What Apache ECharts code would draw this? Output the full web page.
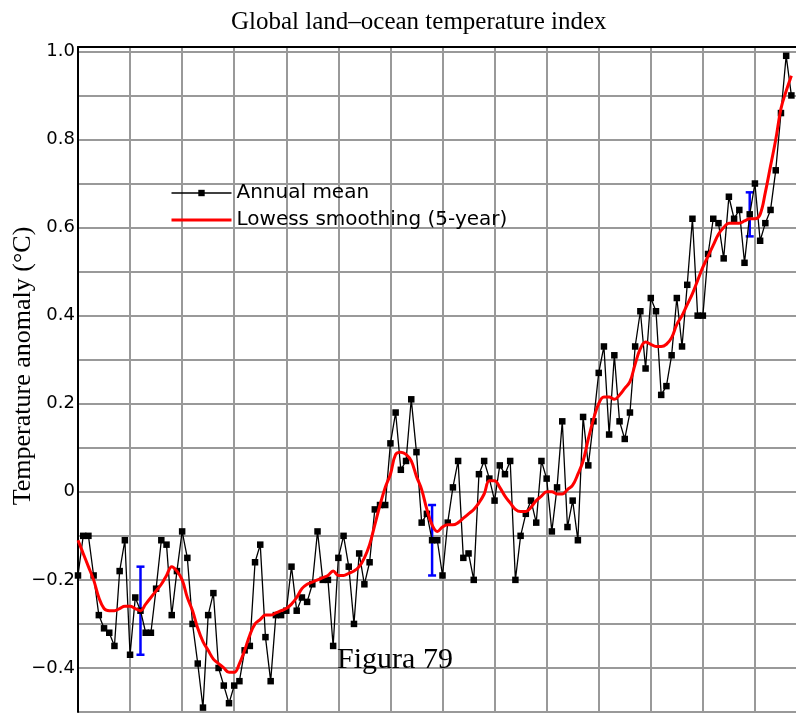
<!DOCTYPE html>
<html>
<head>
<meta charset="utf-8">
<title>Global land–ocean temperature index</title>
<script src="https://cdn.jsdelivr.net/npm/echarts@6/dist/echarts.min.js"></script>
<style>
  html, body { margin: 0; padding: 0; background: #fff; }
  #chart { width: 796px; height: 713px; }
</style>
</head>
<body>
<div id="chart"></div>
<script>
// 数据：年度平均值（1880–2017）
const firstYear = 1880
const annualMean = [
  -0.19, -0.10, -0.10, -0.19, -0.28, -0.31, -0.32, -0.35, -0.18, -0.11,
  -0.37, -0.24, -0.27, -0.32, -0.32, -0.22, -0.11, -0.12, -0.28, -0.18,
  -0.09, -0.15, -0.30, -0.39, -0.49, -0.28, -0.23, -0.40, -0.44, -0.48,
  -0.44, -0.43, -0.36, -0.35, -0.16, -0.12, -0.33, -0.43, -0.28, -0.28,
  -0.27, -0.17, -0.27, -0.24, -0.25, -0.21, -0.09, -0.20, -0.20, -0.35,
  -0.15, -0.10, -0.17, -0.30, -0.14, -0.21, -0.16, -0.04, -0.03, -0.03,
  0.11, 0.18, 0.05, 0.07, 0.21, 0.09, -0.07, -0.05, -0.11, -0.11,
  -0.19, -0.07, 0.01, 0.07, -0.15, -0.14, -0.20, 0.04, 0.07, 0.03,
  -0.02, 0.06, 0.04, 0.07, -0.20, -0.10, -0.05, -0.02, -0.07, 0.07,
  0.03, -0.09, 0.01, 0.16, -0.08, -0.02, -0.11, 0.17, 0.06, 0.16,
  0.27, 0.33, 0.13, 0.31, 0.16, 0.12, 0.18, 0.33, 0.41, 0.28,
  0.44, 0.41, 0.22, 0.24, 0.31, 0.44, 0.33, 0.47, 0.62, 0.40,
  0.40, 0.54, 0.62, 0.61, 0.53, 0.67, 0.62, 0.64, 0.52, 0.63,
  0.70, 0.57, 0.61, 0.64, 0.73, 0.86, 0.99, 0.90,
]
// 5 年 Lowess 平滑
const lowess = [
  -0.11, -0.14, -0.17, -0.20, -0.24, -0.265, -0.27, -0.27, -0.265, -0.26,
  -0.26, -0.265, -0.27, -0.255, -0.24, -0.225, -0.21, -0.19, -0.17, -0.18,
  -0.20, -0.24, -0.27, -0.31, -0.34, -0.36, -0.38, -0.39, -0.40, -0.41,
  -0.41, -0.39, -0.36, -0.325, -0.30, -0.29, -0.28, -0.28, -0.275, -0.27,
  -0.265, -0.255, -0.24, -0.22, -0.21, -0.205, -0.20, -0.195, -0.19, -0.18,
  -0.19, -0.19, -0.185, -0.18, -0.17, -0.15, -0.12, -0.075, -0.03, 0.01,
  0.04, 0.085, 0.09, 0.085, 0.07, 0.035, 0.005, -0.04, -0.075, -0.09,
  -0.08, -0.075, -0.075, -0.07, -0.06, -0.05, -0.04, -0.025, -0.005, 0.025,
  0.025, 0.01, -0.01, -0.025, -0.04, -0.045, -0.045, -0.035, -0.02, -0.01,
  0.0, 0.0, -0.005, -0.005, 0.005, 0.015, 0.04, 0.07, 0.12, 0.165,
  0.20, 0.215, 0.215, 0.21, 0.22, 0.235, 0.25, 0.29, 0.325, 0.34,
  0.335, 0.33, 0.33, 0.335, 0.35, 0.38, 0.40, 0.425, 0.45, 0.48,
  0.51, 0.535, 0.56, 0.585, 0.60, 0.61, 0.61, 0.61, 0.615, 0.62,
  0.62, 0.63, 0.68, 0.74, 0.80, 0.87, 0.91, 0.945,
]
// 不确定性区间（误差棒）
const errYears = [1892, 1948, 2009]
const errLow = [-0.37, -0.19, 0.58]
const errHigh = [-0.17, -0.03, 0.68]

const years = annualMean.map((_, i) => firstYear + i)

const chart = echarts.init(document.getElementById('chart'))

const yLabel = (v) => {
  const t = Math.round(v * 10)
  if (Math.abs(v * 10 - t) > 1e-6 || t % 2 !== 0) return ''
  if (t === 0) return '0'
  return (t / 10).toFixed(1).replace('-', '\u2212')
}

chart.setOption({
  animation: false,
  backgroundColor: '#fff',
  title: {
    text: 'Global land\u2013ocean temperature index',
    left: 231,
    top: 10,
    padding: 0,
    textStyle: {
      fontFamily: 'Liberation Serif',
      fontSize: 25,
      fontWeight: 'normal',
      color: '#000',
    },
  },
  legend: {
    data: [
      {name: 'Annual mean', lineStyle: {color: '#000', width: 1.3}},
      {
        name: 'Lowess smoothing (5-year)',
        lineStyle: {color: '#ff0000', width: 3},
        itemStyle: {color: 'rgba(0,0,0,0)', borderWidth: 0},
      },
    ],
    orient: 'vertical',
    left: 170,
    top: 183,
    padding: 0,
    itemWidth: 60,
    itemHeight: 8,
    itemGap: 7,
    textStyle: {fontFamily: 'DejaVu Sans', fontSize: 20, color: '#000'},
  },
  grid: {left: 78, right: -11, top: 47, bottom: 1, outerBoundsMode: 'none', containLabel: false},
  xAxis: [
    {
      type: 'value',
      min: 1880,
      max: 2020,
      interval: 10,
      axisLine: {show: false},
      axisTick: {show: false},
      axisLabel: {show: false},
      splitLine: {lineStyle: {color: '#999', width: 2}},
    },
    {
      // 顶部边框
      type: 'value',
      position: 'top',
      min: 1880,
      max: 2020,
      axisLine: {show: true, onZero: false, lineStyle: {color: '#000', width: 2}},
      axisTick: {show: false},
      axisLabel: {show: false},
      splitLine: {show: false},
    },
  ],
  yAxis: {
    type: 'value',
    min: -0.5,
    max: 1.01,
    interval: 0.1,
    axisLine: {show: true, onZero: false, lineStyle: {color: '#000', width: 2}},
    axisTick: {show: false},
    axisLabel: {
      margin: 3,
      showMaxLabel: false,
      fontFamily: 'DejaVu Sans',
      fontSize: 18,
      color: '#000',
      formatter: yLabel,
    },
    splitLine: {lineStyle: {color: '#999', width: 2}},
  },
  graphic: [
    {
      // 纵轴标题（位置略高于绘图区中心）
      type: 'text',
      x: 23,
      y: 366,
      rotation: Math.PI / 2,
      style: {
        text: 'Temperature anomaly (\u00B0C)',
        font: '26px "Liberation Serif"',
        fill: '#000',
        align: 'center',
        verticalAlign: 'middle',
      },
    },
    {
      type: 'text',
      x: 395,
      y: 660,
      z: 100,
      style: {
        text: 'Figura 79',
        font: '30px "Liberation Serif"',
        fill: '#000',
        align: 'center',
        verticalAlign: 'middle',
      },
    },
  ],
  series: [
    {
      name: 'error',
      type: 'custom',
      z: 1,
      data: errYears.map((y, i) => [y, errLow[i], errHigh[i]]),
      encode: {x: 0, y: [1, 2]},
      renderItem: (params, api) => {
        const hi = api.coord([api.value(0), api.value(2)])
        const lo = api.coord([api.value(0), api.value(1)])
        const w = 4
        const style = {stroke: '#0000ff', lineWidth: 2.5}
        return {
          type: 'group',
          children: [
            {type: 'line', shape: {x1: hi[0], y1: hi[1], x2: lo[0], y2: lo[1]}, style},
            {type: 'line', shape: {x1: hi[0] - w, y1: hi[1], x2: hi[0] + w, y2: hi[1]}, style},
            {type: 'line', shape: {x1: lo[0] - w, y1: lo[1], x2: lo[0] + w, y2: lo[1]}, style},
          ],
        }
      },
    },
    {
      name: 'Annual mean',
      type: 'line',
      z: 2,
      data: years.map((y, i) => [y, annualMean[i]]),
      symbol: 'rect',
      symbolSize: 6.5,
      itemStyle: {color: '#000'},
      lineStyle: {color: '#000', width: 1.3},
    },
    {
      name: 'Lowess smoothing (5-year)',
      type: 'line',
      z: 3,
      data: years.map((y, i) => [y, lowess[i]]),
      symbol: 'none',
      smooth: 0.4,
      itemStyle: {color: '#ff0000'},
      lineStyle: {color: '#ff0000', width: 3},
    },
  ],
})
</script>
</body>
</html>
